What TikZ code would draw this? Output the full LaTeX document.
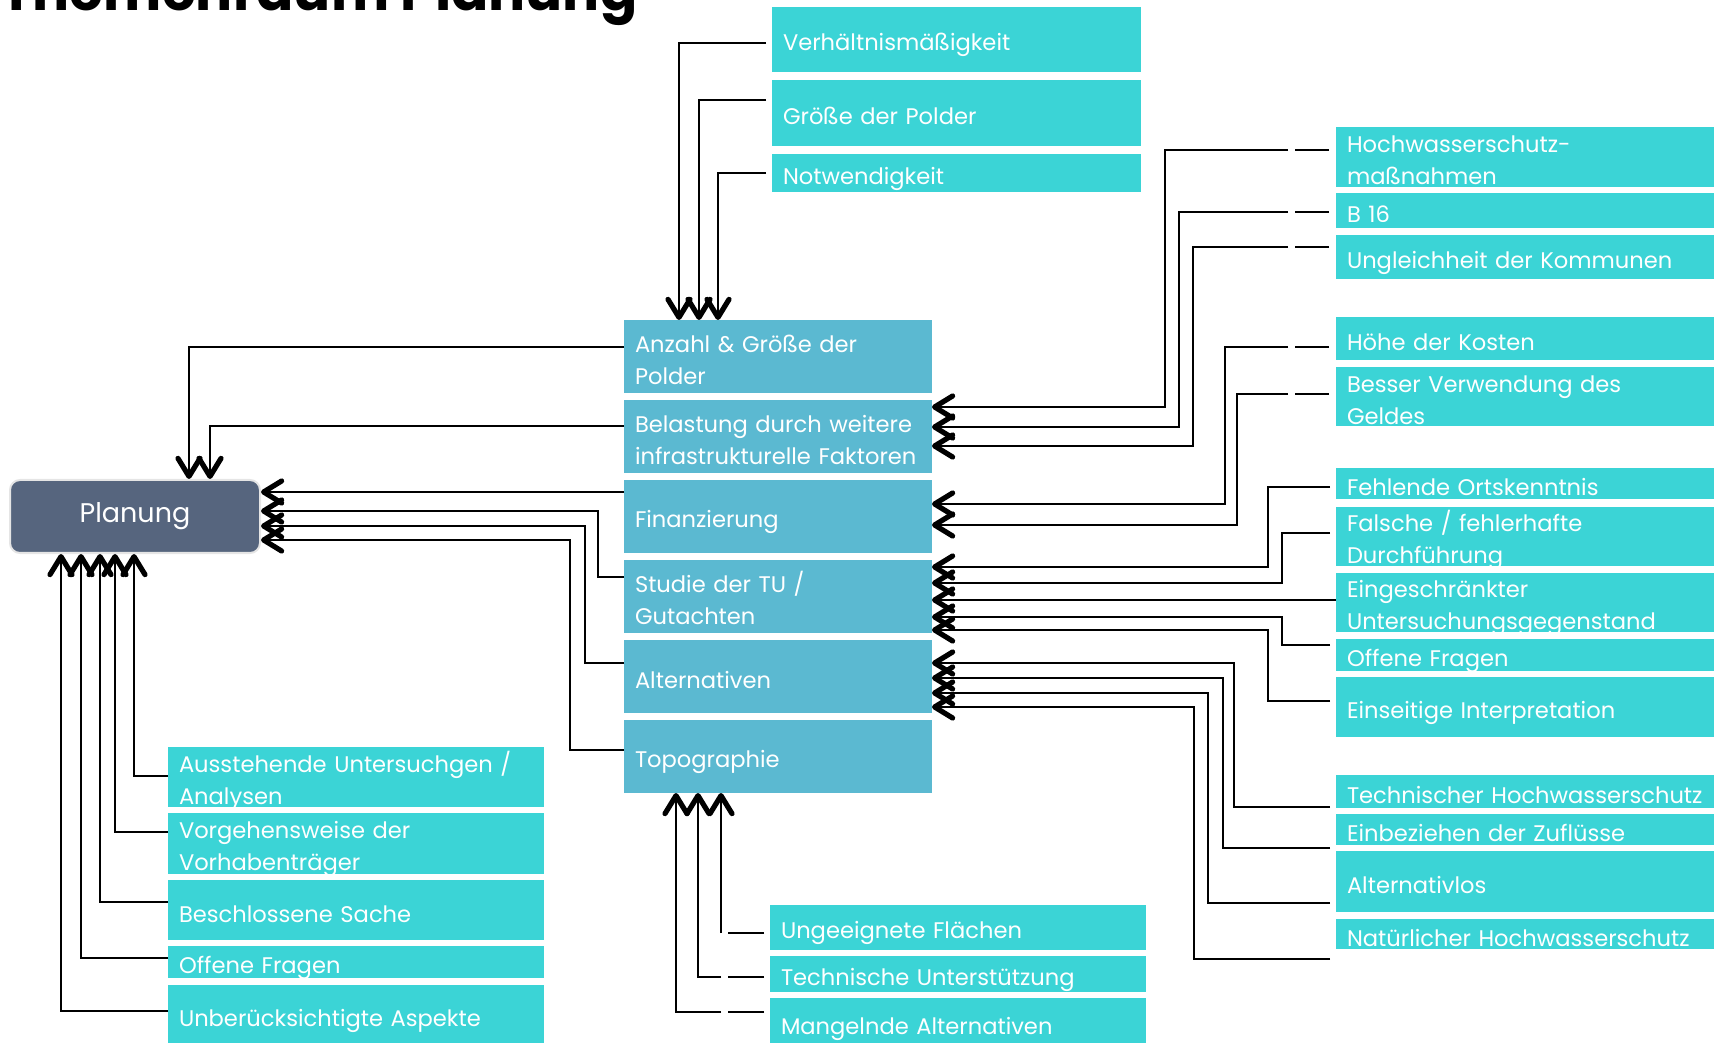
\documentclass[tikz,border=0pt]{standalone}
\usepackage{fontspec}
\setmainfont{Poppins}
\usetikzlibrary{arrows.meta,positioning,calc}
\definecolor{Cause}{HTML}{3BD4D6}
\definecolor{Topic}{HTML}{5BB9D1}
\definecolor{Core}{HTML}{56657E}

\tikzset{
  box/.style={anchor=north west,text=white,align=left,inner xsep=5.5pt,inner ysep=-2.5pt,outer sep=0pt,
    font=\fontsize{11.3}{16}\selectfont,
    execute at begin node={\rule{0pt}{14.5pt}},execute at end node={\rule[-2.5pt]{0pt}{2.5pt}}},
  cause/.style={box,fill=Cause},
  topic/.style={box,fill=Topic,minimum width=154pt,text width=143pt,minimum height=36.5pt},
  tcause/.style={cause,minimum width=184.5pt,text width=173.5pt},
  rcause/.style={cause,minimum width=189pt,text width=178pt},
  lcause/.style={cause,minimum width=188pt,text width=177pt},
  link/.style={line width=1pt,-{Straight Barb[length=9pt,width=11pt,line width=2.6pt,round]}},
}

\begin{document}
\begin{tikzpicture}[x=0.5pt,y=-0.5pt,node distance=3pt]
  \useasboundingbox (0,0) rectangle (1721,1043);

  \node[anchor=base west,inner sep=0pt,font=\fontsize{27.5}{30}\selectfont\bfseries] (ttl) at (0,11)
    {Themenraum Planung};

  % zentrale Kachel
  \node[draw=gray!20,line width=1pt,fill=Core,rounded corners=5pt,anchor=north west,
    minimum width=125pt,minimum height=36.5pt,text=white,font=\fontsize{13.5}{16}\selectfont] (pla) at (9,479) {Planung};

  % Unterthemen
  \node[topic] (anz) at (624,320) {Anzahl \& Größe der\\Polder};
  \node[topic,below=3.5pt of anz] (bel) {Belastung durch weitere\\infrastrukturelle Faktoren};
  \node[topic,below=3.5pt of bel] (fin) {Finanzierung};
  \node[topic,below=3.5pt of fin] (stu) {Studie der TU /\\Gutachten};
  \node[topic,below=3.5pt of stu] (alt) {Alternativen};
  \node[topic,below=3.5pt of alt] (topo) {Topographie};

  % oben
  \node[tcause,minimum height=32.5pt] (ver) at (772,7) {Verhältnismäßigkeit};
  \node[tcause,minimum height=33pt,below=4pt of ver] (gro) {Größe der Polder};
  \node[tcause,minimum height=19pt,below=4pt of gro] (notw) {Notwendigkeit};

  % rechts
  \node[rcause,minimum height=30pt] (hws) at (1336,127) {Hochwasserschutz-\\maßnahmen};
  \node[rcause,minimum height=17.5pt,below=of hws] (b16) {B 16};
  \node[rcause,minimum height=22pt,below=3.5pt of b16] (ung) {Ungleichheit der Kommunen};
  \node[rcause,minimum height=21.5pt,below=19pt of ung] (hoe) {Höhe der Kosten};
  \node[rcause,minimum height=29.5pt,below=3.5pt of hoe] (bes) {Besser Verwendung des\\Geldes};
  \node[rcause,minimum height=15.5pt,below=21pt of bes] (feh) {Fehlende Ortskenntnis};
  \node[rcause,minimum height=29.5pt,below=4pt of feh] (fal) {Falsche / fehlerhafte\\Durchführung};
  \node[rcause,minimum height=29.5pt,below=3.5pt of fal] (ein) {Eingeschränkter\\Untersuchungsgegenstand};
  \node[rcause,minimum height=16pt,below=3.5pt of ein] (off) {Offene Fragen};
  \node[rcause,minimum height=30pt,below=of off] (eis) {Einseitige Interpretation};
  \node[rcause,minimum height=16.5pt,below=19pt of eis] (tec) {Technischer Hochwasserschutz};
  \node[rcause,minimum height=15.5pt,below=of tec] (zuf) {Einbeziehen der Zuflüsse};
  \node[rcause,minimum height=30.5pt,below=of zuf] (alv) {Alternativlos};
  \node[rcause,minimum height=15pt,below=3.5pt of alv] (nat) {Natürlicher Hochwasserschutz};

  % unten
  \node[lcause,minimum height=22.5pt] (ufl) at (770,905) {Ungeeignete Flächen};
  \node[lcause,minimum height=18pt,below=of ufl] (tun) {Technische Unterstützung};
  \node[lcause,minimum height=25pt,below=of tun] (mal) {Mangelnde Alternativen};

  % links unten
  \node[lcause,minimum height=30pt] (aus) at (168,747) {Ausstehende Untersuchgen /\\Analysen};
  \node[lcause,minimum height=30.5pt,below=of aus] (vor) {Vorgehensweise der\\Vorhabenträger};
  \node[lcause,minimum height=30pt,below=of vor] (bsc) {Beschlossene Sache};
  \node[lcause,minimum height=16pt,below=of bsc] (ofr) {Offene Fragen};
  \node[lcause,minimum height=30pt,below=3.5pt of ofr] (unb) {Unberücksichtigte Aspekte};

  % Verbindungen zur Planung
  \draw[link] (anz.west |- 0,347) -| (pla.north -| 189,0);
  \draw[link] (bel.west |- 0,426) -| (pla.north -| 210,0);
  \draw[link] (fin.west |- 0,492) -- (pla.east |- 0,492);
  \draw[link] (stu.west |- 0,577) -- (598,577) |- (pla.east |- 0,511);
  \draw[link] (alt.west |- 0,663) -- (585,663) |- (pla.east |- 0,526);
  \draw[link] (topo.west |- 0,750) -- (570,750) |- (pla.east |- 0,540);
  \draw[link] (aus.west |- 0,776) -| (pla.south -| 134,0);
  \draw[link] (vor.west |- 0,832) -| (pla.south -| 115,0);
  \draw[link] (bsc.west |- 0,902) -| (pla.south -| 100,0);
  \draw[link] (ofr.west |- 0,958) -| (pla.south -| 81,0);
  \draw[link] (unb.west |- 0,1011) -| (pla.south -| 61,0);

  % oben -> Anzahl
  \draw[link] ($(ver.west |- 0,43)+(-6,0)$) -| (anz.north -| 679,0);
  \draw[link] ($(gro.west |- 0,100)+(-6,0)$) -| (anz.north -| 699,0);
  \draw[link] ($(notw.west |- 0,173)+(-6,0)$) -| (anz.north -| 718,0);

  % rechts -> Belastung / Finanzierung
  \draw[link] ($(hws.west |- 0,150)+(-7,0)$) -- ++(-34,0) ++(-7,0) -- (1165,150) |- (bel.east |- 0,407);
  \draw[link] ($(b16.west |- 0,212)+(-7,0)$) -- ++(-34,0) ++(-7,0) -- (1179,212) |- (bel.east |- 0,427);
  \draw[link] ($(ung.west |- 0,247)+(-7,0)$) -- ++(-34,0) ++(-7,0) -- (1193,247) |- (bel.east |- 0,446);
  \draw[link] ($(hoe.west |- 0,347)+(-7,0)$) -- ++(-34,0) ++(-7,0) -- (1225,347) |- (fin.east |- 0,504);
  \draw[link] ($(bes.west |- 0,394)+(-7,0)$) -- ++(-34,0) ++(-7,0) -- (1237,394) |- (fin.east |- 0,525);

  % rechts -> Studie
  \draw[link] ($(feh.west |- 0,487)+(-6,0)$) -- (1268,487) |- (stu.east |- 0,567);
  \draw[link] ($(fal.west |- 0,533)+(-6,0)$) -- (1282,533) |- (stu.east |- 0,583);
  \draw[link] (ein.west |- 0,600) -- (stu.east |- 0,600);
  \draw[link] ($(off.west |- 0,645)+(-6,0)$) -- (1282,645) |- (stu.east |- 0,617);
  \draw[link] ($(eis.west |- 0,701)+(-6,0)$) -- (1268,701) |- (stu.east |- 0,630);

  % rechts -> Alternativen
  \draw[link] ($(tec.west |- 0,807)+(-6,0)$) -- (1234,807) |- (alt.east |- 0,663);
  \draw[link] ($(zuf.west |- 0,848)+(-6,0)$) -- (1223,848) |- (alt.east |- 0,678);
  \draw[link] ($(alv.west |- 0,903)+(-6,0)$) -- (1208,903) |- (alt.east |- 0,693);
  \draw[link] ($(nat.west |- 0,959)+(-6,0)$) -- (1194,959) |- (alt.east |- 0,707);

  % unten -> Topographie
  \draw[link] ($(ufl.west |- 0,933)+(-6,0)$) -- (728,933) (721,933) -- (topo.south -| 721,0);
  \draw[link] ($(tun.west |- 0,977)+(-6,0)$) -- (728,977) (721,977) -| (topo.south -| 698,0);
  \draw[link] ($(mal.west |- 0,1012)+(-6,0)$) -- (728,1012) (721,1012) -| (topo.south -| 676,0);
\end{tikzpicture}
\end{document}
